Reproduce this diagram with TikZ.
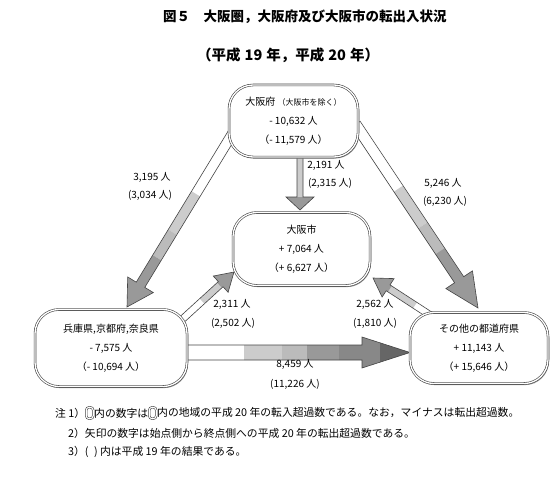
\documentclass[tikz,border=0pt]{standalone}
\usepackage{fontspec}
\setmainfont{Noto Sans CJK JP}
\usetikzlibrary{shadows}
\definecolor{g1}{HTML}{CCCCCC}
\definecolor{g2}{HTML}{BBBBBB}
\definecolor{g3}{HTML}{999999}
\definecolor{g4}{HTML}{888888}
\definecolor{g5}{HTML}{666666}
\definecolor{edge}{HTML}{444444}
\newcommand\fatarrow[6]{%
  \pgfmathanglebetweenpoints{\pgfpointanchor{#1}{center}}{\pgfpointanchor{#2}{center}}%
  \let\faAng\pgfmathresult
  \pgfpointdiff{\pgfpointanchor{#1}{center}}{\pgfpointanchor{#2}{center}}%
  \pgfgetlastxy\faDx\faDy
  \pgfmathsetmacro\faLen{veclen(\faDx,\faDy)}%
  \pgfmathsetmacro\faB{\faLen-#5}%
  \begin{scope}[shift={(#1)}, rotate=\faAng, x=1pt, y=1pt]
    \begin{scope}
      \clip (0,-#3) -- (\faB,-#3) -- (\faB,-#4) -- (\faLen,0) -- (\faB,#4) -- (\faB,#3) -- (0,#3) -- cycle;
      \foreach \stA/\stB/\stC in {#6} {\fill[\stC] (\stA*\faLen,-30) rectangle (\stB*\faLen,30);}
    \end{scope}
    \draw[arrline] (0,-#3) -- (\faB,-#3) -- (\faB,-#4) -- (\faLen,0) -- (\faB,#4) -- (\faB,#3) -- (0,#3) -- cycle;
  \end{scope}}
\begin{document}
\begin{tikzpicture}[x=1pt, y=-1pt,
  arrline/.style={draw=edge, line width=0.6pt, line join=miter},
  box/.style={rectangle, rounded corners=24pt, draw=edge, double=white, double distance=1.3pt,
    line width=0.6pt, fill=white, align=center, inner sep=0pt,
    font=\fontsize{10}{19}\selectfont,
    drop shadow={shadow xshift=1pt, shadow yshift=-1.6pt, fill=g3, opacity=1}},
  lab/.style={font=\fontsize{10}{12}\selectfont, inner sep=0pt},
  note/.style={font=\fontsize{10.8}{12}\selectfont, inner sep=0pt, anchor=west},
  icon/.style={rectangle, rounded corners=3pt, draw=edge, double=white, double distance=1.1pt,
    line width=0.6pt, minimum width=7pt, minimum height=11.5pt, inner sep=0pt, anchor=west},
  ttl/.style={font=\fontsize{13.5}{16}\selectfont\bfseries, inner sep=0pt, anchor=west}]
\useasboundingbox (0,0) rectangle (556,476);
\fill[white] (0,0) rectangle (556,476);

% titles
\node[ttl] (title) at (163,17) {図５　大阪圏，大阪府及び大阪市の転出入状況};
\node[ttl, font=\fontsize{14.5}{16}\selectfont\bfseries] (subtitle) at (197,55)
  {（平成\hspace{4pt}19\hspace{4pt}年，平成\hspace{4pt}20\hspace{4pt}年）};

% arrow end points
\coordinate (a1s) at (238,124.5); \coordinate (a1e) at (127,307);
\coordinate (a2s) at (300,150);   \coordinate (a2e) at (300,210);
\coordinate (a3s) at (355.6,124.4); \coordinate (a3e) at (478,308);
\coordinate (a4s) at (176,325);   \coordinate (a4e) at (234,272);
\coordinate (a5s) at (433,317);   \coordinate (a5e) at (373,278);
\coordinate (a6s) at (182,352.5); \coordinate (a6e) at (410,352.5);

\fatarrow{a1s}{a1e}{5}{15}{26}{0/.38/white,.38/.59/g1,.59/.73/g2,.73/1.01/g3}
\fatarrow{a2s}{a2e}{3}{14}{13}{0/.78/g1,.78/1.01/g3}
\fatarrow{a3s}{a3e}{5.5}{16}{34}{0/.35/white,.35/.55/g1,.55/.69/g2,.69/1.01/g3}
\fatarrow{a4s}{a4e}{3.5}{11}{18}{0/.45/white,.45/.75/g1,.75/1.01/g3}
\fatarrow{a5s}{a5e}{3.5}{11}{18}{0/.3/white,.3/.72/g1,.72/1.01/g3}
\fatarrow{a6s}{a6e}{7.5}{15.5}{48}{0/.27/white,.27/.44/g1,.44/.55/g2,.55/.69/g3,.69/.87/g4,.87/1.01/g5}

% boxes
\node[box, minimum width=129pt, minimum height=72pt] (fu) at (293.5,121)
  {大阪府 {\fontsize{8}{10}\selectfont （大阪市を除く）}\\- 10,632 人\\（- 11,579 人）};
\node[box, minimum width=137pt, minimum height=73pt] (shi) at (301.5,249)
  {大阪市\\+ 7,064 人\\（+ 6,627 人）};
\node[box, minimum width=152pt, minimum height=77pt] (hyo) at (111,348)
  {兵庫県,京都府,奈良県\\- 7,575 人\\（- 10,694 人）};
\node[box, minimum width=138pt, minimum height=71pt] (oth) at (479,348)
  {その他の都道府県\\+ 11,143 人\\（+ 15,646 人）};

% arrow labels
\node[lab] (l1a) at (152,177) {3,195 人};
\node[lab] (l1b) at (150,195) {(3,034 人)};
\node[lab] (l2a) at (326,165) {2,191 人};
\node[lab] (l2b) at (330,183) {(2,315 人)};
\node[lab] (l3a) at (443,183) {5,246 人};
\node[lab] (l3b) at (445,201) {(6,230 人)};
\node[lab] (l4a) at (232,304) {2,311 人};
\node[lab] (l4b) at (233,323) {(2,502 人)};
\node[lab] (l5a) at (375,304) {2,562 人};
\node[lab] (l5b) at (375,323) {(1,810 人)};
\node[lab] (l6a) at (295,364) {8,459 人};
\node[lab] (l6b) at (295,384) {(11,226 人)};

% notes
\node[note] (n1a) at (55,413) {注 1）};
\node[icon] (i1) at ([xshift=0.5pt]n1a.east) {};
\node[note] (n1b) at ([xshift=0.5pt]i1.east) {内の数字は};
\node[icon] (i2) at ([xshift=0.5pt]n1b.east) {};
\node[note] (n1c) at ([xshift=0.5pt]i2.east) {内の地域の平成 20 年の転入超過数である。なお，マイナスは転出超過数。};
\node[note] (n2) at (68,433) {2）矢印の数字は始点側から終点側への平成 20 年の転出超過数である。};
\node[note] (n3) at (68,452) {3）( \hspace{3pt}) 内は平成 19 年の結果である。};
\end{tikzpicture}
\end{document}
